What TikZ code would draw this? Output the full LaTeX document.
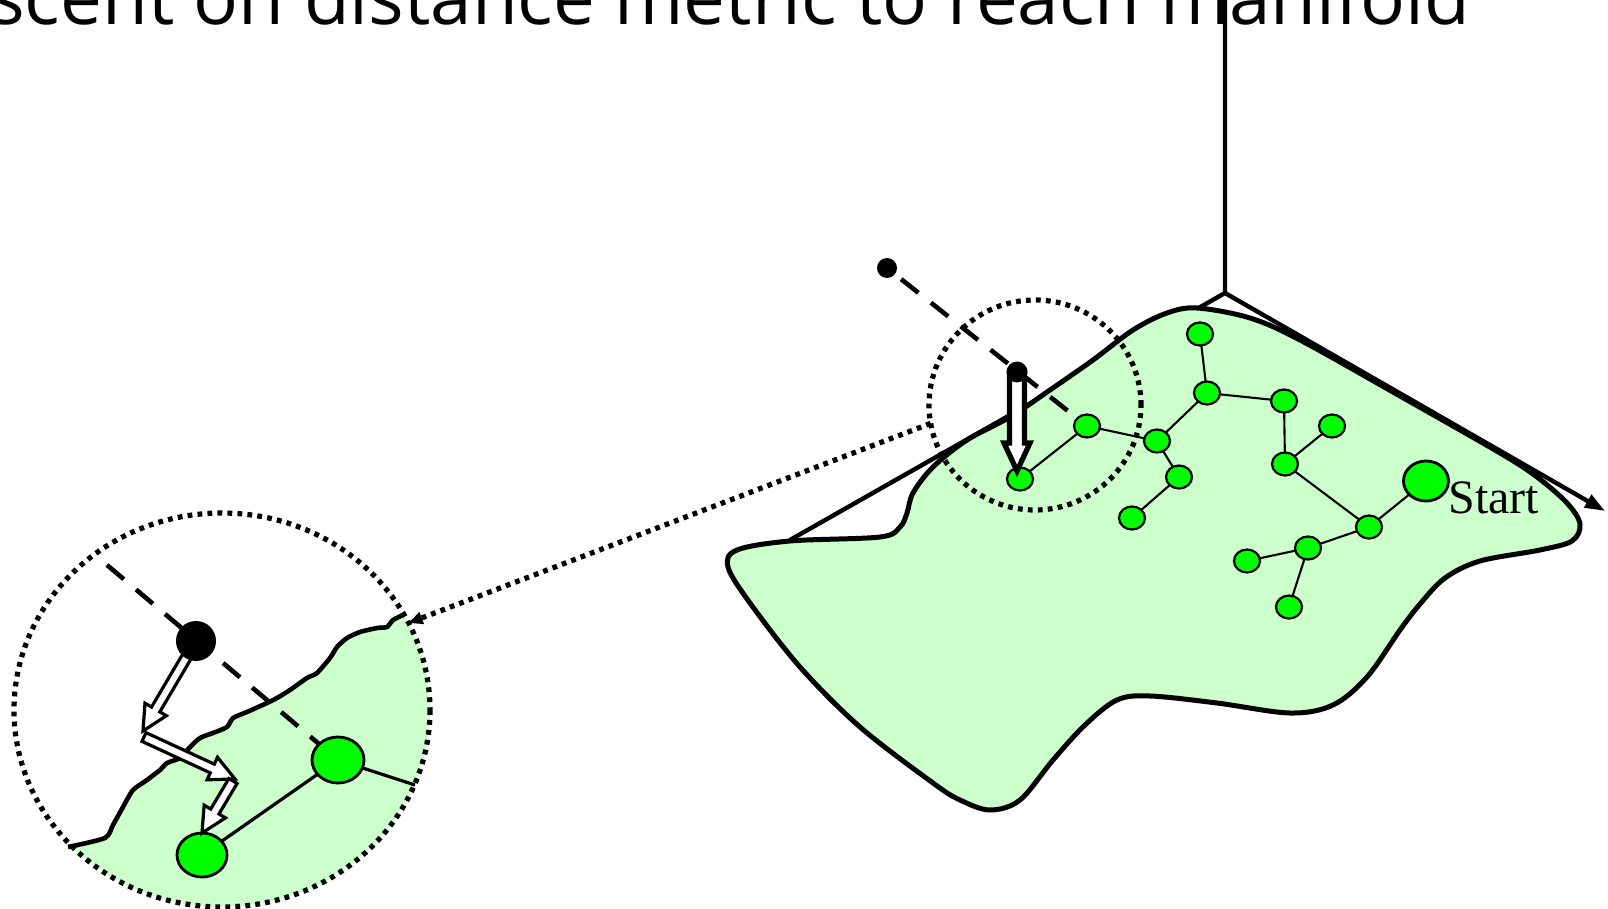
\documentclass[tikz,border=0pt]{standalone}
\usepackage{fontspec}
\newfontfamily\titlefont{Open Sans}
\newfontfamily\labelfont{Liberation Serif}
\usetikzlibrary{shapes.geometric,arrows.meta,calc}
\definecolor{blobgreen}{RGB}{204,255,204}
\definecolor{nodegreen}{RGB}{0,255,0}
\newcommand{\hollowarrow}[6]{%
  \coordinate (hb) at ($(#2)!#5!(#1)$);
  \filldraw[fill=white,draw=black,line width=#6,line join=miter]
    ($(#1)!#3!90:(#2)$) -- ($(hb)!#3!90:(#2)$) -- ($(hb)!#4!90:(#2)$) -- (#2)
    -- ($(hb)!#4!-90:(#2)$) -- ($(hb)!#3!-90:(#2)$) -- ($(#1)!#3!-90:(#2)$) -- cycle;}
\tikzset{
  tnode/.style={ellipse, draw=black, line width=1.1pt, fill=nodegreen, minimum width=13pt, minimum height=11.5pt, inner sep=0pt, outer sep=0pt},
  bignode/.style={ellipse, draw=black, line width=1.4pt, fill=nodegreen, inner sep=0pt, outer sep=0pt},
  tedge/.style={line width=1.05pt},
  iedge/.style={line width=1.6pt},
  blobline/.style={line width=2.5pt, line join=round},
  axisline/.style={line width=2.2pt},
  dotline/.style={line width=2.6pt, dash pattern=on 2.4pt off 2.6pt},
  dashline/.style={line width=2.3pt, dash pattern=on 11pt off 8pt},
  blackdot/.style={circle, fill=black, inner sep=0pt, outer sep=0pt},
}
\begin{document}
\begin{tikzpicture}[x=0.5pt,y=-0.5pt]
\useasboundingbox (0,0) rectangle (1608,909);
\clip (0,0) rectangle (1608,909);
% title (cut off at the top, as in the original slide)
\node[anchor=base east, inner sep=0pt, font=\titlefont\fontsize{37.3}{40}\selectfont] (title) at (1471,25) {scent on distance metric to reach manifold};
% axes
\coordinate (apex) at (1225,293);
\coordinate (vtop) at (1225,-5);
\coordinate (lend) at (790,540);
\coordinate (rend) at (1605,511);
\draw[axisline] (vtop) -- (apex) -- (lend);
% manifold blob
\filldraw[fill=blobgreen, blobline] plot[smooth cycle, tension=0.55] coordinates {
 (1197,308) (1250,318) (1300,340) (1400,396) (1500,453) (1537,477) (1567,503) (1580,524)
 (1572,541) (1540,550) (1480,561) (1445,578) (1420,604) (1400,630) (1367,677) (1333,705)
 (1290,713) (1217,703) (1150,696) (1117,700) (1085,725) (1053,760) (1020,800) (990,810)
 (960,800) (933,783) (860,727) (800,667) (750,603) (728,567) (737,550) (790,541) (880,537)
 (900,527) (907,513) (913,493) (933,467) (967,440) (1010,417) (1050,390) (1093,360)
 (1133,330) (1167,313)};
\draw[axisline, -{Triangle[length=10pt,width=7pt]}] (apex) -- (rend);
% tree
\node[tnode] (A) at (1020,479) {};
\node[tnode] (B) at (1087,426) {};
\node[tnode] (n1) at (1200,334) {};
\node[tnode] (n2) at (1207,393) {};
\node[tnode] (n3) at (1284,401) {};
\node[tnode] (n4) at (1332,426) {};
\node[tnode] (n5) at (1285,464) {};
\node[tnode] (n6) at (1157,441) {};
\node[tnode] (n7) at (1179,477) {};
\node[tnode] (n8) at (1132,518) {};
\node[tnode] (n9) at (1369,527) {};
\node[tnode] (n10) at (1308,548) {};
\node[tnode] (n11) at (1247,561) {};
\node[tnode] (n12) at (1289,607) {};
\node[bignode, minimum width=22.5pt, minimum height=20pt] (start) at (1426,481) {};
\node[anchor=base west, inner sep=0pt, font=\labelfont\fontsize{24}{27}\selectfont] (startlbl) at (1448,513) {Start};
\draw[tedge] (A) -- (B) (B) -- (n6) (n6) -- (n2) (n2) -- (n1) (n2) -- (n3) (n3) -- (n5)
  (n5) -- (n4) (n5) -- (n9) (n9) -- (start) (n9) -- (n10) (n10) -- (n11) (n10) -- (n12)
  (n6) -- (n7) (n7) -- (n8);
% sample point, descent
\node[blackdot, minimum size=10pt] (p0) at (887,268) {};
\draw[dashline, dash phase=-4pt] (p0) -- (B);
\coordinate (as) at (1017,372);
\coordinate (ae) at (1017,471);
\hollowarrow{as}{ae}{3.75pt}{6.5pt}{14pt}{2.6pt}
\node[blackdot, minimum size=10.5pt] (p1) at (1017,372) {};
% zoom circle
\node[ellipse, dotline, draw, minimum width=106pt, minimum height=105pt, inner sep=0pt, outer sep=0pt] (zc) at (1035,405) {};
% inset
\node[ellipse, minimum width=208pt, minimum height=197pt, inner sep=0pt, outer sep=0pt] (inset) at (222,710) {};
\begin{scope}
  \clip (222,710) ellipse [x radius=208, y radius=197];
  \fill[blobgreen] (0,860) -- (68,847) -- plot[smooth, tension=0.4] coordinates {
   (68,847) (105,838) (113,825) (123,807) (133,790) (147,780) (160,770) (167,763) (180,758)
   (190,747) (200,738) (213,733) (227,727) (233,718) (247,712) (267,703) (277,698) (290,690)
   (307,678) (317,673) (330,658) (337,647) (347,638) (360,632) (377,628) (387,627) (393,620) (403,615)}
   -- (460,590) -- (460,940) -- (0,940) -- cycle;
\end{scope}
\draw[line width=2.3pt, line join=round] plot[smooth, tension=0.4] coordinates {
   (68,847) (105,838) (113,825) (123,807) (133,790) (147,780) (160,770) (167,763) (180,758)
   (190,747) (200,738) (213,733) (227,727) (233,718) (247,712) (267,703) (277,698) (290,690)
   (307,678) (317,673) (330,658) (337,647) (347,638) (360,632) (377,628) (387,627) (393,620) (403,615)};
\node[bignode, minimum width=26pt, minimum height=23pt] (g1) at (338,760) {};
\node[bignode, minimum width=25pt, minimum height=22pt] (g2) at (202,855) {};
\coordinate (gr) at (415,785);
\coordinate (dstart) at (107,565);
\draw[iedge] (g1) -- (g2) (g1) -- (gr);
\draw[dashline] (dstart) -- (g1);
\coordinate (a1s) at (196,641);
\coordinate (a1e) at (143,731);
\coordinate (a2s) at (144,737);
\coordinate (a2e) at (235,779);
\coordinate (a3s) at (233,781);
\coordinate (a3e) at (202,833);
\hollowarrow{a1s}{a1e}{2.4pt}{6.2pt}{12.5pt}{1.6pt}
\hollowarrow{a2s}{a2e}{2.4pt}{6.2pt}{12.5pt}{1.6pt}
\hollowarrow{a3s}{a3e}{2.4pt}{6.2pt}{12.5pt}{1.6pt}
\node[blackdot, minimum size=20pt] (pbig) at (196,641) {};
\draw[dotline] (222,710) ellipse [x radius=208, y radius=197];
\draw[dotline, -{Triangle[length=7pt,width=6pt]}] (zc.190) -- (inset.25.3);
\end{tikzpicture}
\end{document}
